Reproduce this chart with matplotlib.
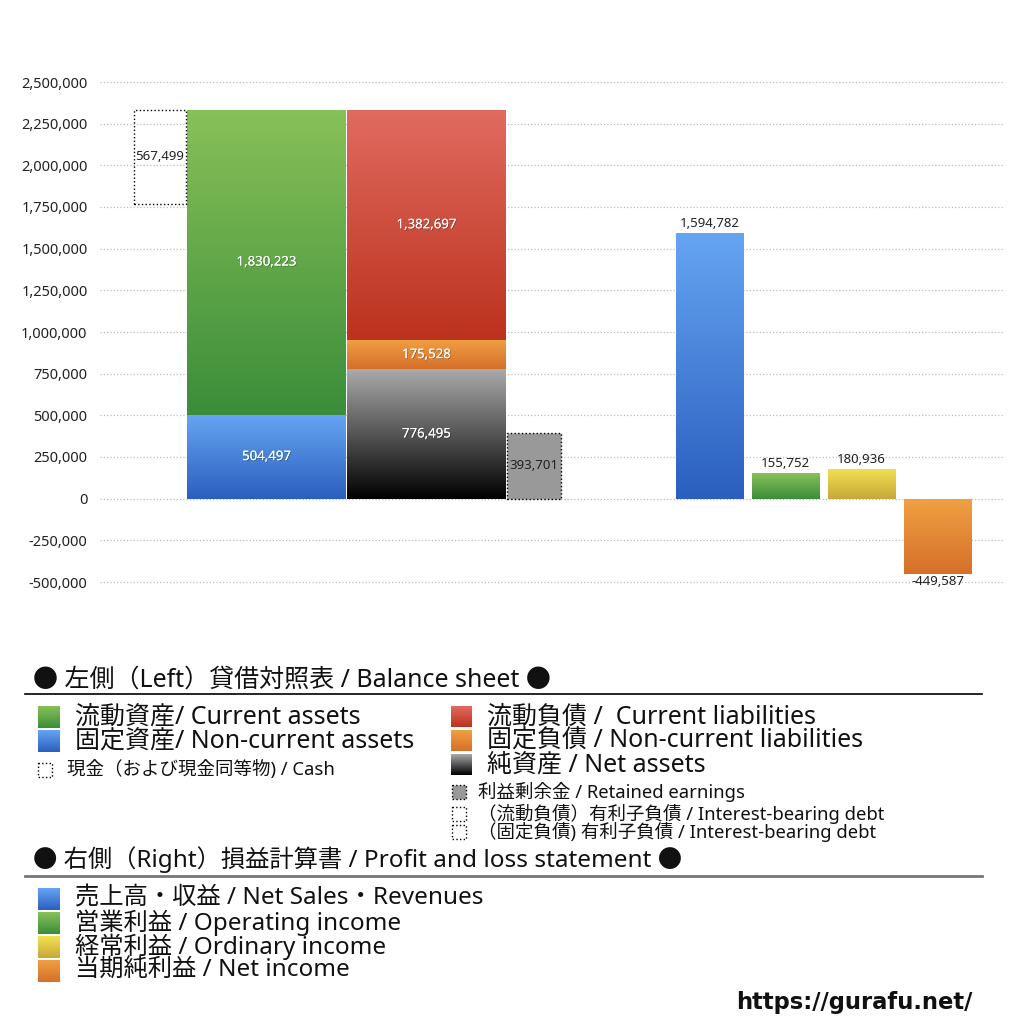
import numpy as np
import matplotlib
matplotlib.use("Agg")
import matplotlib.pyplot as plt
import matplotlib.patheffects as pe
from matplotlib.colors import to_rgb
from matplotlib.patches import Rectangle

plt.rcParams['font.family'] = ['Noto Sans', 'Noto Sans CJK JP', 'DejaVu Sans']

# balance sheet values
current_assets = 1830223
noncurrent_assets = 504497
cash = 567499
current_liab = 1382697
noncurrent_liab = 175528
net_assets = 776495
retained = 393701

# profit and loss values
pl_names = ['売上高・収益', '営業利益', '経常利益', '当期純利益']
pl_values = [1594782, 155752, 180936, -449587]

yticks = np.arange(-500000, 2500001, 250000)

# colours (top, bottom) of each gradient
C_GREEN = ('#88c158', '#3b8d3a')
C_BLUE = ('#66a5f2', '#2b5fbf')
C_RED = ('#e16b60', '#bb321d')
C_ORANGE = ('#f0a043', '#d66f2a')
C_BLACK = ('#aaaaaa', '#000000')
C_YELLOW = ('#f2e252', '#c7a73a')


def grad_bar(ax, x, bottom, height, width, colors):
    bar = ax.bar(x, height, width, bottom=bottom, color='none', linewidth=0, zorder=3)[0]
    top, bot = np.array(to_rgb(colors[0])), np.array(to_rgb(colors[1]))
    t = np.linspace(0, 1, 256)[:, None, None]
    img = top * (1 - t) + bot * t
    y0, y1 = bottom, bottom + height
    im = ax.imshow(img, extent=[x - width / 2, x + width / 2, min(y0, y1), max(y0, y1)],
                   aspect='auto', zorder=3, interpolation='bilinear')
    im.set_clip_path(bar)
    return bar


def inner_label(ax, x, y, value):
    ax.text(x, y, f'{value:,}', ha='center', va='center', color='white', fontsize=9.5, zorder=5,
            path_effects=[pe.withSimplePatchShadow(offset=(0.6, -0.6), shadow_rgbFace='black', alpha=0.3),
                          pe.Normal()])


fig = plt.figure(figsize=(10.24, 10.24), dpi=100)
ax = fig.add_axes([100 / 1024, 1 - 584 / 1024, 905 / 1024, 504 / 1024])

# x positions in the plot (layout)
x_cash, w_cash = 60, 52
x_assets, w_big = 166.5, 159
x_liab = 326.5
x_ret, w_ret = 434, 54
x_pl = [609.5, 685.5, 761.5, 837.5]
w_pl = 68

# left side: assets
grad_bar(ax, x_assets, 0, noncurrent_assets, w_big, C_BLUE)
grad_bar(ax, x_assets, noncurrent_assets, current_assets, w_big, C_GREEN)
inner_label(ax, x_assets, noncurrent_assets / 2, noncurrent_assets)
inner_label(ax, x_assets, noncurrent_assets + current_assets / 2, current_assets)

total_assets = current_assets + noncurrent_assets
ax.bar(x_cash, cash, w_cash, bottom=total_assets - cash, fill=False, edgecolor='black',
       linestyle=':', linewidth=1, zorder=4)
ax.text(x_cash, total_assets - cash / 2, f'{cash:,}', ha='center', va='center', fontsize=9.5,
        color='#222222', zorder=5)

# liabilities and net assets
grad_bar(ax, x_liab, 0, net_assets, w_big, C_BLACK)
grad_bar(ax, x_liab, net_assets, noncurrent_liab, w_big, C_ORANGE)
grad_bar(ax, x_liab, net_assets + noncurrent_liab, current_liab, w_big, C_RED)
inner_label(ax, x_liab, net_assets / 2, net_assets)
inner_label(ax, x_liab, net_assets + noncurrent_liab / 2, noncurrent_liab)
inner_label(ax, x_liab, net_assets + noncurrent_liab + current_liab / 2, current_liab)

ax.bar(x_ret, retained, w_ret, color='#999999', edgecolor='black', linestyle=':', linewidth=1, zorder=4)
ax.text(x_ret, retained / 2, f'{retained:,}', ha='center', va='center', fontsize=9.5,
        color='#222222', zorder=5)

# right side: profit and loss
pl_colors = [C_BLUE, C_GREEN, C_YELLOW, C_ORANGE]
for xp, v, c in zip(x_pl, pl_values, pl_colors):
    grad_bar(ax, xp, 0, v, w_pl, c)
    if v >= 0:
        ax.annotate(f'{v:,}', (xp, v), xytext=(0, 2), textcoords='offset points', ha='center',
                    va='bottom', fontsize=9.5, color='#222222')
    else:
        ax.annotate(f'{v:,}', (xp, v), xytext=(0, -1), textcoords='offset points', ha='center',
                    va='top', fontsize=9.5, color='#222222')

ax.set_xlim(0, 905)
ax.set_ylim(-512000, 2512000)
ax.set_yticks(yticks)
ax.set_yticklabels([f'{v:,}' for v in yticks], fontsize=10.5, color='#222222')
ax.tick_params(axis='y', length=0, pad=9)
ax.set_xticks([])
for s in ax.spines.values():
    s.set_visible(False)
ax.grid(axis='y', linestyle=':', color='#bbbbbb', linewidth=0.9, zorder=0)
ax.set_axisbelow(True)

# legend area drawn in pixel coordinates
lg = fig.add_axes([0, 0, 1, 1], zorder=-1)
lg.set_xlim(0, 1024)
lg.set_ylim(1024, 0)
lg.axis('off')


def lg_square(x, y, size, colors=None, face=None):
    if colors is not None:
        top, bot = np.array(to_rgb(colors[0])), np.array(to_rgb(colors[1]))
        t = np.linspace(0, 1, 64)[:, None, None]
        lg.imshow(top * (1 - t) + bot * t, extent=[x, x + size, y + size / 2, y - size / 2],
                  aspect='auto', interpolation='bilinear')
    else:
        lg.add_patch(Rectangle((x, y - size / 2), size, size,
                               facecolor=face if face else 'none', edgecolor='black',
                               linestyle=':', linewidth=1))


big = 18
small = 13.3

lg.text(33, 680, '● 左側（Left）貸借対照表 / Balance sheet ●', fontsize=big, va='center', color='#111111')
lg.plot([25, 982], [694, 694], color='black', linewidth=1.2)

left_items = [('流動資産/ Current assets', C_GREEN), ('固定資産/ Non-current assets', C_BLUE)]
for i, (label, c) in enumerate(left_items):
    y = 717 + 24 * i
    lg_square(38, y, 22, c)
    lg.text(75, y, label, fontsize=big, va='center', color='#111111')
lg_square(38, 770, 14)
lg.text(67, 770, '現金（および現金同等物) / Cash', fontsize=small, va='center', color='#111111')

right_items = [('流動負債 /  Current liabilities', C_RED), ('固定負債 / Non-current liabilities', C_ORANGE),
               ('純資産 / Net assets', C_BLACK)]
for i, (label, c) in enumerate(right_items):
    y = 717 + 24 * i
    lg_square(451, y, 21, c)
    lg.text(487, y, label, fontsize=big, va='center', color='#111111')
lg_square(452, 792, 14, face='#999999')
lg.text(478, 792, '利益剰余金 / Retained earnings', fontsize=small, va='center', color='#111111')
lg_square(452, 814, 14)
lg.text(478, 814, '（流動負債）有利子負債 / Interest-bearing debt', fontsize=small, va='center', color='#111111')
lg_square(452, 832, 14)
lg.text(478, 832, '（固定負債) 有利子負債 / Interest-bearing debt', fontsize=small, va='center', color='#111111')

lg.text(33, 860, '● 右側（Right）損益計算書 / Profit and loss statement ●', fontsize=17.5, va='center',
        color='#111111')
lg.plot([25, 982], [876, 876], color='#777777', linewidth=2)

pl_labels = ['売上高・収益 / Net Sales・Revenues', '営業利益 / Operating income',
             '経常利益 / Ordinary income', '当期純利益 / Net income']
for i, (label, c) in enumerate(zip(pl_labels, pl_colors)):
    y = 899 + 24 * i
    lg_square(38, y, 22, c)
    lg.text(75, y, label, fontsize=17.5, va='center', color='#111111')

lg.text(972, 1003, 'https://gurafu.net/', fontsize=16.3, fontweight='bold', ha='right', va='center',
        color='#111111', family='DejaVu Sans')

fig.savefig('out.png', dpi=100)
